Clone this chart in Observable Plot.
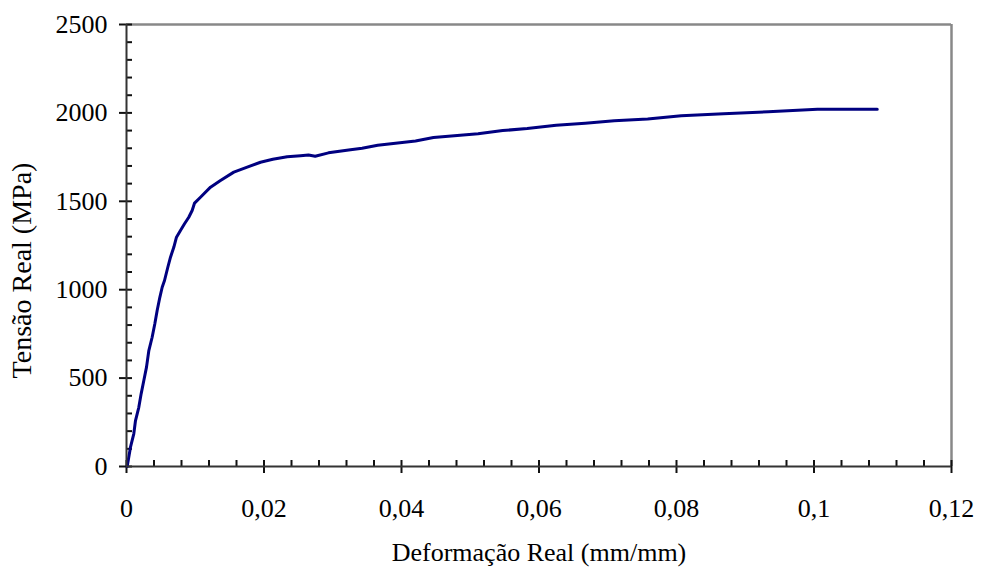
<!DOCTYPE html>
<html>
<head>
<meta charset="utf-8">
<script src="https://cdn.jsdelivr.net/npm/d3@7"></script>
<script src="https://cdn.jsdelivr.net/npm/@observablehq/plot@0.6"></script>
<style>
  html, body { margin: 0; padding: 0; background: #fff; }
</style>
</head>
<body>
<div id="chart"></div>
<script>
const strain = [0.0001, 0.00058, 0.00106, 0.00131, 0.00179, 0.00213, 0.00252, 0.00291, 0.00325, 0.00373,
  0.00412, 0.00446, 0.00485, 0.00519, 0.00553, 0.00601, 0.0064, 0.00688, 0.00727, 0.00785,
  0.00844, 0.00906, 0.00955, 0.0099, 0.01076, 0.01222, 0.01367, 0.01561, 0.01756, 0.01949,
  0.02128, 0.02337, 0.02531, 0.02647, 0.02745, 0.02938, 0.03258, 0.03427, 0.03654, 0.04204,
  0.04465, 0.05114, 0.05472, 0.05828, 0.0625, 0.06672, 0.07094, 0.07581, 0.08069, 0.08684,
  0.09334, 0.1005, 0.1092];
const stress = [0, 109, 185, 260, 335, 411, 486, 562, 656, 731,
  807, 882, 957, 1014, 1052, 1127, 1184, 1240, 1297, 1335,
  1373, 1410, 1448, 1490, 1523, 1580, 1618, 1665, 1693, 1721,
  1738, 1752, 1758, 1762, 1755, 1774, 1792, 1800, 1817, 1841,
  1861, 1882, 1900, 1912, 1930, 1942, 1956, 1966, 1984, 1995,
  2006, 2021, 2021];

const xTicks = [0, 0.02, 0.04, 0.06, 0.08, 0.1, 0.12];
const yTicks = [0, 500, 1000, 1500, 2000, 2500];
const xMinor = [0.004, 0.008, 0.012, 0.016, 0.024, 0.028, 0.032, 0.036, 0.044, 0.048, 0.052, 0.056,
  0.064, 0.068, 0.072, 0.076, 0.084, 0.088, 0.092, 0.096, 0.104, 0.108, 0.112, 0.116];
const yMinor = [100, 200, 300, 400, 600, 700, 800, 900, 1100, 1200, 1300, 1400,
  1600, 1700, 1800, 1900, 2100, 2200, 2300, 2400];
const xLabel = "Deformação Real (mm/mm)";
const yLabel = "Tensão Real (MPa)";

const data = strain.map((s, i) => ({strain: s, stress: stress[i]}));
const fmtX = d => String(d).replace(".", ",");
const fmtY = d => String(d);
const font = "'Liberation Serif', 'Times New Roman', serif";
const fs = 26;

const chart = Plot.plot({
  width: 981,
  height: 568,
  marginLeft: 126,
  marginRight: 30,
  marginTop: 24,
  marginBottom: 102,
  style: {fontFamily: font, fontSize: fs + "px", color: "#000", background: "#fff"},
  x: {domain: [0, 0.12]},
  y: {domain: [0, 2500]},
  marks: [
    // top and right gray frame
    Plot.ruleY([2500], {stroke: "#888", strokeWidth: 2.5}),
    Plot.ruleX([0.12], {stroke: "#888", strokeWidth: 2.5}),
    // minor ticks and inner halves of major ticks (pointing inside)
    Plot.axisX({ticks: xMinor.concat(xTicks), tickSize: -6, tickFormat: () => "", label: null,
      stroke: "#111", strokeWidth: 2}),
    Plot.axisY({ticks: yMinor.concat(yTicks), tickSize: -6, tickFormat: () => "", label: null,
      stroke: "#111", strokeWidth: 2}),
    // major ticks outside with labels
    Plot.axisX({ticks: xTicks, tickFormat: fmtX, tickSize: 7, tickPadding: 25, label: null,
      fontSize: fs, stroke: "#111", strokeWidth: 2}),
    Plot.axisY({ticks: yTicks, tickFormat: fmtY, tickSize: 7, tickPadding: 12, label: null,
      fontSize: fs, stroke: "#111", strokeWidth: 2}),
    Plot.line(data, {x: "strain", y: "stress", stroke: "#000080", strokeWidth: 3, strokeLinejoin: "round"}),
    // axis lines
    Plot.ruleY([0], {stroke: "#333", strokeWidth: 2}),
    Plot.ruleX([0], {stroke: "#333", strokeWidth: 2}),
    Plot.text([xLabel], {frameAnchor: "bottom", textAnchor: "middle", text: d => d, dy: 86, fontSize: fs, lineAnchor: "middle"}),
    Plot.text([yLabel], {frameAnchor: "left", textAnchor: "middle", text: d => d, dx: -104, dy: 25, rotate: -90, fontSize: 28, lineAnchor: "middle"})
  ]
});
document.getElementById("chart").appendChild(chart);
</script>
</body>
</html>
